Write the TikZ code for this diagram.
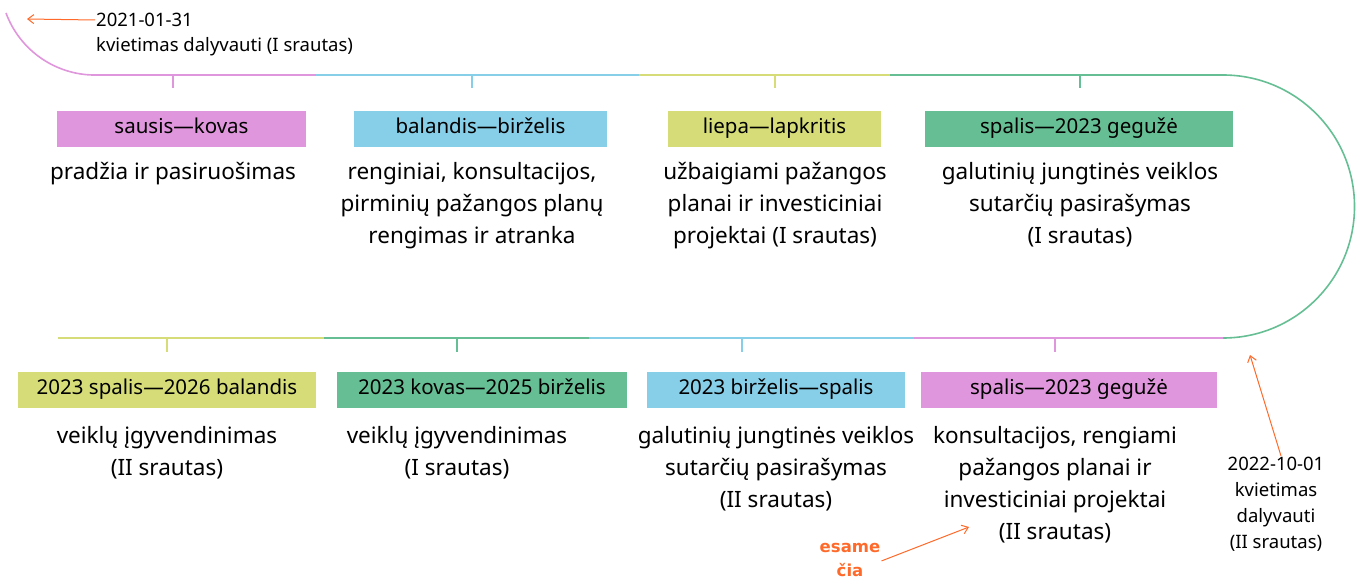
\documentclass[tikz,border=0pt]{standalone}
\usepackage{fontspec}
\setmainfont{Noto Sans}
\newfontfamily\paryskinta{DejaVu Sans}
\usetikzlibrary{positioning, arrows.meta}
\definecolor{rozine}{HTML}{E096DC}
\definecolor{melyna}{HTML}{87CEE8}
\definecolor{geltona}{HTML}{D6DD78}
\definecolor{zalia}{HTML}{66BF94}
\definecolor{oranzine}{HTML}{FF6A2A}
\begin{document}
\begin{tikzpicture}[x=1pt, y=-1pt,
    laikas/.style={line width=1.6pt},
    zyma/.style={line width=1.3pt},
    periodas/.style={minimum height=36pt, inner sep=0pt, text height=13pt, text depth=4pt, font=\fontsize{20.5}{22}\selectfont},
    aprasas/.style={align=center, inner sep=0pt, font=\fontsize{22.5}{32}\selectfont},
    pastaba/.style={align=center, inner sep=1pt, font=\fontsize{18.5}{26}\selectfont},
    rodykle/.style={-{Straight Barb[length=6pt, width=9pt]}, oranzine, line width=1pt}]
\useasboundingbox (0,0) rectangle (1359,580);

\coordinate (t0) at (97,75);
\coordinate (t1) at (316,75);
\coordinate (t2) at (639,75);
\coordinate (t3) at (890,75);
\coordinate (t4) at (1223,75);
\coordinate (a0) at (58,338);
\coordinate (a1) at (324,338);
\coordinate (a2) at (589,338);
\coordinate (a3) at (914,338);
\coordinate (a4) at (1223,338);

\draw[laikas, rozine] (6,13) arc[start angle=159.7, end angle=90, radius=95] -- (t1);
\draw[laikas, melyna] (t1) -- (t2);
\draw[laikas, geltona] (t2) -- (t3);
\draw[laikas, zalia] (t3) -- (t4) arc[start angle=-90, end angle=90, radius=131.5];
\draw[laikas, rozine] (a4) -- (a3);
\draw[laikas, melyna] (a3) -- (a2);
\draw[laikas, zalia] (a2) -- (a1);
\draw[laikas, geltona] (a1) -- (a0);

\coordinate (z1) at (173,75);
\coordinate (z2) at (472,75);
\coordinate (z3) at (775,75);
\coordinate (z4) at (1080,75);
\coordinate (z5) at (1055,338);
\coordinate (z6) at (742,338);
\coordinate (z7) at (457,338);
\coordinate (z8) at (167,338);
\draw[zyma, rozine] (z1) -- ++(0,13);
\draw[zyma, melyna] (z2) -- ++(0,13);
\draw[zyma, geltona] (z3) -- ++(0,13);
\draw[zyma, zalia] (z4) -- ++(0,13);
\draw[zyma, rozine] (z5) -- ++(0,14);
\draw[zyma, melyna] (z6) -- ++(0,14);
\draw[zyma, zalia] (z7) -- ++(0,14);
\draw[zyma, geltona] (z8) -- ++(0,14);

\node[periodas, fill=rozine, minimum width=249pt] (p1) at (181.5,129.5) {sausis---kovas};
\node[periodas, fill=melyna, minimum width=253pt] (p2) at (480.5,129.5) {balandis---birželis};
\node[periodas, fill=geltona, minimum width=213pt] (p3) at (774.5,129.5) {liepa---lapkritis};
\node[periodas, fill=zalia, minimum width=308pt] (p4) at (1079,129.5) {spalis---2023 gegužė};
\node[periodas, fill=rozine, minimum width=296pt] (p5) at (1069,390) {spalis---2023 gegužė};
\node[periodas, fill=melyna, minimum width=258pt] (p6) at (776,390) {2023 birželis---spalis};
\node[periodas, fill=zalia, minimum width=290pt] (p7) at (482,390) {2023 kovas---2025 birželis};
\node[periodas, fill=geltona, minimum width=298pt] (p8) at (167,390) {2023 spalis---2026 balandis};

\node[aprasas, anchor=north] (r1) at ([yshift=-14pt]p1.south -| z1) {pradžia ir pasiruošimas};
\node[aprasas, anchor=north] (r2) at ([yshift=-14pt]p2.south -| z2) {renginiai, konsultacijos,\\pirminių pažangos planų\\rengimas ir atranka};
\node[aprasas, anchor=north] (r3) at ([yshift=-14pt]p3.south -| z3) {užbaigiami pažangos\\planai ir investiciniai\\projektai (I srautas)};
\node[aprasas, anchor=north] (r4) at ([yshift=-14pt]p4.south -| z4) {galutinių jungtinės veiklos\\sutarčių pasirašymas\\(I srautas)};
\node[aprasas, anchor=north] (r5) at ([yshift=-18pt]p5.south -| z5) {konsultacijos, rengiami\\pažangos planai ir\\investiciniai projektai\\(II srautas)};
\node[aprasas, anchor=north] (r6) at ([yshift=-18pt]p6.south) {galutinių jungtinės veiklos\\sutarčių pasirašymas\\(II srautas)};
\node[aprasas, anchor=north] (r7) at ([yshift=-18pt]p7.south -| z7) {veiklų įgyvendinimas\\(I srautas)};
\node[aprasas, anchor=north] (r8) at ([yshift=-18pt]p8.south -| z8) {veiklų įgyvendinimas\\(II srautas)};

\node[pastaba, anchor=west] (d1) at (95,20) {2021-01-31};
\node[pastaba, anchor=west] (k1) at (95,47) {kvietimas dalyvauti (I srautas)};
\coordinate (pradzia) at (27,19);
\draw[rodykle] (d1.west) -- (pradzia);

\node[pastaba, anchor=north] (d2) at (1276,456) {2022-10-01\\kvietimas\\dalyvauti\\(II srautas)};
\coordinate (antras) at (1250,355);
\draw[rodykle] ([xshift=5pt]d2.north) -- (antras);

\node[pastaba, anchor=north, text=oranzine, font=\fontsize{16.5}{24}\paryskinta\bfseries] (esame) at (850,542) {esame\\čia};
\coordinate (dabar) at (969,527);
\draw[rodykle] ([yshift=-1pt]esame.east) -- (dabar);
\end{tikzpicture}
\end{document}
